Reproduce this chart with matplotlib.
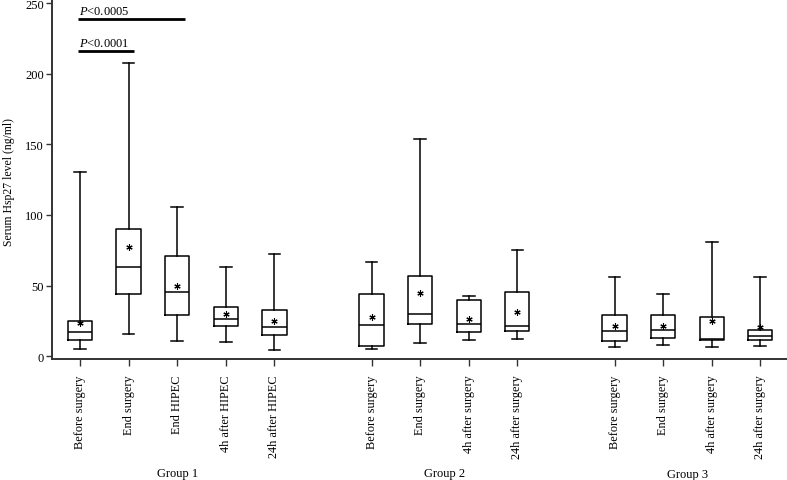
import matplotlib
matplotlib.use('Agg')
import matplotlib.pyplot as plt

plt.rcParams['font.family'] = ['Liberation Serif', 'DejaVu Serif']
plt.rcParams['mathtext.fontset'] = 'custom'
plt.rcParams['mathtext.it'] = 'Liberation Serif:italic'
plt.rcParams['mathtext.rm'] = 'Liberation Serif'

# ---------------------------------------------------------------------------
# Data (ng/ml)
# ---------------------------------------------------------------------------
labels = ['Before surgery', 'End surgery', 'End HIPEC', '4h after HIPEC', '24h after HIPEC',
          'Before surgery', 'End surgery', '4h after surgery', '24h after surgery',
          'Before surgery', 'End surgery', '4h after surgery', '24h after surgery']
positions = [0, 1, 2, 3, 4, 6, 7, 8, 9, 11, 12, 13, 14]

whislo = [5.2, 15.8, 10.8, 10.1, 4.5, 5.2, 9.4, 11.5, 12.5, 6.6, 8.2, 6.8, 7.3]
q1     = [11.5, 44.3, 29.0, 21.7, 15.3, 7.3, 22.7, 17.0, 17.9, 11.0, 12.7, 11.3, 11.5]
med    = [17.0, 63.5, 45.3, 26.2, 21.0, 22.2, 29.7, 22.9, 21.5, 17.9, 18.6, 11.8, 14.4]
q3     = [25.2, 90.2, 70.8, 34.7, 32.6, 44.3, 56.7, 40.1, 45.1, 29.2, 29.2, 27.6, 18.8]
whishi = [130.5, 207.9, 105.5, 63.5, 72.2, 67.0, 154.1, 42.5, 75.3, 56.4, 44.1, 81.2, 55.9]
means  = [23.6, 77.4, 50.0, 29.7, 25.2, 28.0, 44.6, 26.4, 31.6, 21.2, 21.7, 24.8, 20.3]

groups = ['Group 1', 'Group 2', 'Group 3']
group_centers = [2, 7.5, 12.5]

# significance bars: (x start, x end, y, text)
sig_bars = [(-0.05, 2.16, 238.9, '$\\it{P}$<0.0005'),
            (-0.05, 1.11, 216.4, '$\\it{P}$<0.0001')]

# ---------------------------------------------------------------------------
fig = plt.figure(figsize=(7.87, 4.81), dpi=100)
ax = fig.add_axes([0.0665, 0.2516, 0.9335, 0.7484])

stats = [dict(whislo=a, q1=b, med=c, q3=d, whishi=e)
         for a, b, c, d, e in zip(whislo, q1, med, q3, whishi)]
line = dict(color='black', linewidth=1.1)
ax.bxp(stats, positions=positions, widths=0.5, capwidths=0.24,
       showfliers=False, showmeans=False,
       boxprops=line, whiskerprops=line, capprops=line, medianprops=line)

ax.plot(positions, means, linestyle='none', marker=(6, 2, 0), markersize=4.5,
        markeredgewidth=0.8, color='black')

for x0, x1, y, txt in sig_bars:
    ax.plot([x0, x1], [y, y], color='black', linewidth=2, solid_capstyle='butt')
    ax.text(x0 + 0.02, y + 1.5, txt, fontsize=9, ha='left', va='bottom')

ax.set_xlim(-0.57, 14.55)
ax.set_ylim(-2, 253)
ax.set_yticks([0, 50, 100, 150, 200, 250])
ax.set_xticks(positions)
ax.set_xticklabels(labels, rotation=90, fontsize=8.8)
ax.tick_params(axis='y', labelsize=9, length=4, width=1, color='#333333', pad=2)
ax.tick_params(axis='x', length=5, width=1, color='#333333', pad=6)

for side in ['top', 'right']:
    ax.spines[side].set_visible(False)
for side in ['left', 'bottom']:
    ax.spines[side].set_linewidth(1.4)
    ax.spines[side].set_color('#333333')

fig.text(0.011, 1 - 182 / 481, 'Serum Hsp27 level (ng/ml)', rotation=90, fontsize=8.5,
         ha='center', va='center')

group_y = [474, 474, 475]
for g, xc, yp in zip(groups, group_centers, group_y):
    xf = ax.transData.transform((xc, 0))[0] / fig.bbox.width
    fig.text(xf, 1 - yp / 481, g, fontsize=9, ha='center', va='center')

fig.savefig('out.png', dpi=100)
